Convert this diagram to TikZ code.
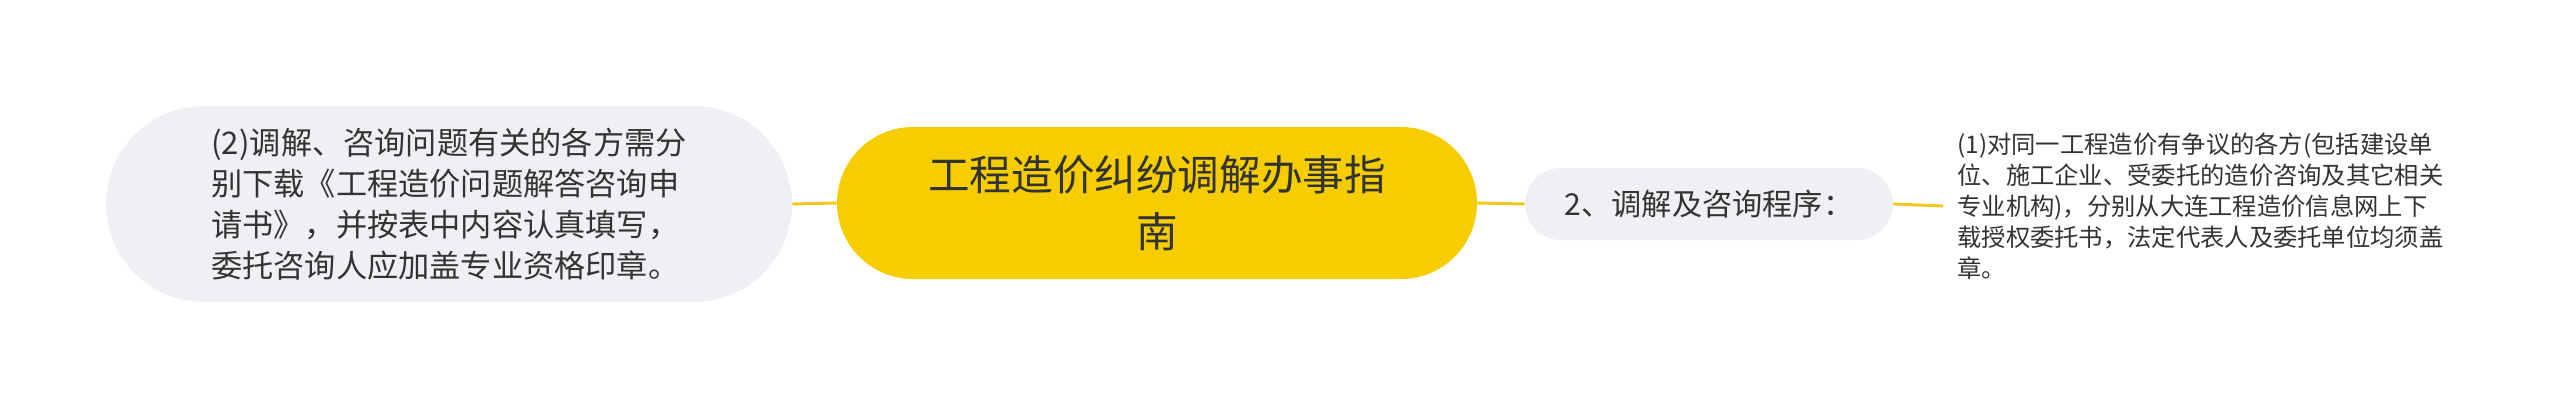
\documentclass[tikz,border=0pt]{standalone}
\usepackage{fontspec}
\setmainfont{Noto Sans CJK SC}
\definecolor{cyellow}{HTML}{F5CD00}
\definecolor{cline}{HTML}{F2C81E}
\definecolor{cgray}{HTML}{EEF0F3}
\definecolor{ctext}{HTML}{333333}
\tikzset{
  graybox/.style={fill=cgray, draw=none, text=ctext, align=left, inner sep=0pt},
  mainbox/.style={fill=cyellow, draw=none, text=ctext, align=center, inner sep=0pt},
  plaintext/.style={text=ctext, align=left, inner xsep=7pt, inner ysep=0pt},
  link/.style={draw=cline, line width=1.5pt}
}
\begin{document}
\begin{tikzpicture}[x=0.5pt,y=-0.5pt]
\useasboundingbox (0,0) rectangle (2560,408);
\node[graybox, minimum width=343pt, minimum height=98pt, rounded corners=49pt,
  font=\fontsize{15.6pt}{20.5pt}\selectfont] (L) at (449,204)
  {(2)调解、咨询问题有关的各方需分\\别下载《工程造价问题解答咨询申\\请书》，并按表中内容认真填写，\\委托咨询人应加盖专业资格印章。};
\node[mainbox, minimum width=320pt, minimum height=76pt, rounded corners=38pt,
  font=\fontsize{20.8pt}{28.5pt}\selectfont] (C) at (1157,203)
  {工程造价纠纷调解办事指\\南};
\node[graybox, minimum width=184pt, minimum height=36pt, rounded corners=18pt,
  font=\fontsize{15.1pt}{18pt}\selectfont] (M) at (1709,204)
  {2、调解及咨询程序：};
\node[plaintext, anchor=west, font=\fontsize{12.15pt}{15.5pt}\selectfont] (R) at (1943,206)
  {(1)对同一工程造价有争议的各方(包括建设单\\位、施工企业、受委托的造价咨询及其它相关\\专业机构)，分别从大连工程造价信息网上下\\载授权委托书，法定代表人及委托单位均须盖\\章。};
\draw[link] (L.east) -- (C.west);
\draw[link] (C.east) -- (M.west);
\draw[link] (M.east) -- (R.west);
\end{tikzpicture}
\end{document}
